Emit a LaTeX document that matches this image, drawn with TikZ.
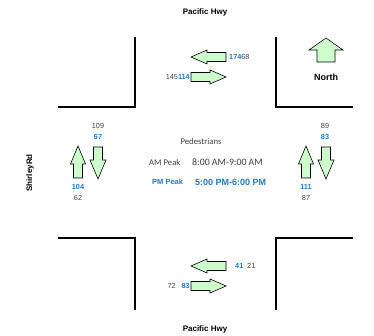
\documentclass[tikz,border=0pt]{standalone}
\usepackage{fontspec}
\setmainfont{Liberation Sans}
\newfontfamily\calibrifont{Carlito}
\definecolor{arrowfill}{HTML}{CCFFCC}
\definecolor{countblue}{HTML}{1F7BC6}
\definecolor{countgrey}{HTML}{404040}
\tikzset{
  kerb/.style={line width=1.6pt, black},
  arrowshape/.style={draw=black, line width=0.6pt, fill=arrowfill, line join=miter},
  % block arrow: tail at origin, pointing along +x
  % #1 length, #2 head length, #3 head half-width, #4 body half-width
  pics/blockarrow/.style args={#1/#2/#3/#4}{
    code={
      \path[arrowshape] (0,-#4) -- (#1-#2,-#4) -- (#1-#2,-#3) -- (#1,0)
        -- (#1-#2,#3) -- (#1-#2,#4) -- (0,#4) -- cycle;
    }
  },
  roadname/.style={font=\bfseries\fontsize{8}{9}\selectfont, text=black},
  count/.style={font=\fontsize{7.3}{8}\selectfont, text=countgrey, inner sep=0pt},
  bluecount/.style={font=\bfseries\fontsize{7.3}{8}\selectfont, text=countblue, inner sep=0pt},
  peaktext/.style={font=\calibrifont\fontsize{8.7}{10}\selectfont, text=countgrey, inner sep=0pt},
}
\newcommand\greynum[1]{{\fontsize{7.3}{8}\selectfont\color{countgrey}#1}}
\newcommand\bluenum[1]{{\bfseries\fontsize{7.3}{8}\selectfont\color{countblue}#1}}
\begin{document}
\begin{tikzpicture}[x=1pt, y=-1pt]
\useasboundingbox[fill=white] (0,0) rectangle (374,336);

% kerb corners of the intersection
\draw[kerb] (58,107) -- (135,107) -- (135,37);
\draw[kerb] (276,37) -- (276,107) -- (353,107);
\draw[kerb] (58,238) -- (135,238) -- (135,310);
\draw[kerb] (276,310) -- (276,238) -- (353,238);

% road names
\node[roadname] (pacnorth) at (205,12) {Pacific Hwy};
\node[roadname] (pacsouth) at (205,329) {Pacific Hwy};
\node[roadname, rotate=90] (shirley) at (30,173) {ShirleyRd};

% north arrow
\pic[rotate=90] at (326,62) {blockarrow=24/12/17/9};
\node[font=\bfseries\fontsize{9}{10}\selectfont] (north) at (326,77) {North};

% northern approach
\pic[rotate=180] at (226,57) {blockarrow=35/16/7/4.5};
\pic at (191,77) {blockarrow=35/16/7/4.5};
\node[anchor=west, inner sep=0pt] (nwb) at (229,57) {\bluenum{174}\greynum{68}};
\node[anchor=east, inner sep=0pt] (neb) at (190,77) {\greynum{145}\bluenum{114}};

% southern approach
\pic[rotate=180] at (226,266) {blockarrow=35/16/7/4.5};
\pic at (191,286) {blockarrow=35/16/7/4.5};
\node[bluecount, anchor=west] (swb) at (235,266) {41};
\node[count, anchor=west] (swbg) at (247,266) {21};
\node[bluecount, anchor=east] (seb) at (190,286) {83};
\node[count, anchor=east] (sebg) at (176,286) {72};

% western approach
\pic[rotate=90] at (78,178) {blockarrow=32/18/7.5/4.5};
\pic[rotate=-90] at (98,147) {blockarrow=32/19/8/4.5};
\node[count] (wsb) at (98,126) {109};
\node[bluecount] (wsbb) at (98,137) {67};
\node[bluecount] (wnb) at (78,187) {104};
\node[count] (wnbg) at (78,198) {62};

% eastern approach
\pic[rotate=90] at (306,178) {blockarrow=32/18/7.5/4.5};
\pic[rotate=-90] at (326,147) {blockarrow=32/19/8/4.5};
\node[count] (esb) at (325,126) {89};
\node[bluecount] (esbb) at (325,137) {83};
\node[bluecount] (enb) at (306,187) {111};
\node[count] (enbg) at (306,198) {87};

% survey periods
\node[peaktext] (ped) at (201,142) {Pedestrians};
\node[peaktext, anchor=west] (amlabel) at (149,163) {AM Peak};
\node[peaktext, anchor=west, font=\calibrifont\fontsize{9.8}{11}\selectfont] (amtime) at (192,162) {8:00 AM-9:00 AM};
\node[bluecount, anchor=west, font=\bfseries\fontsize{7.5}{9}\selectfont] (pmlabel) at (152,182) {PM Peak};
\node[bluecount, anchor=west, font=\bfseries\fontsize{9}{10}\selectfont] (pmtime) at (195,182) {5:00 PM-6:00 PM};
\end{tikzpicture}
\end{document}
